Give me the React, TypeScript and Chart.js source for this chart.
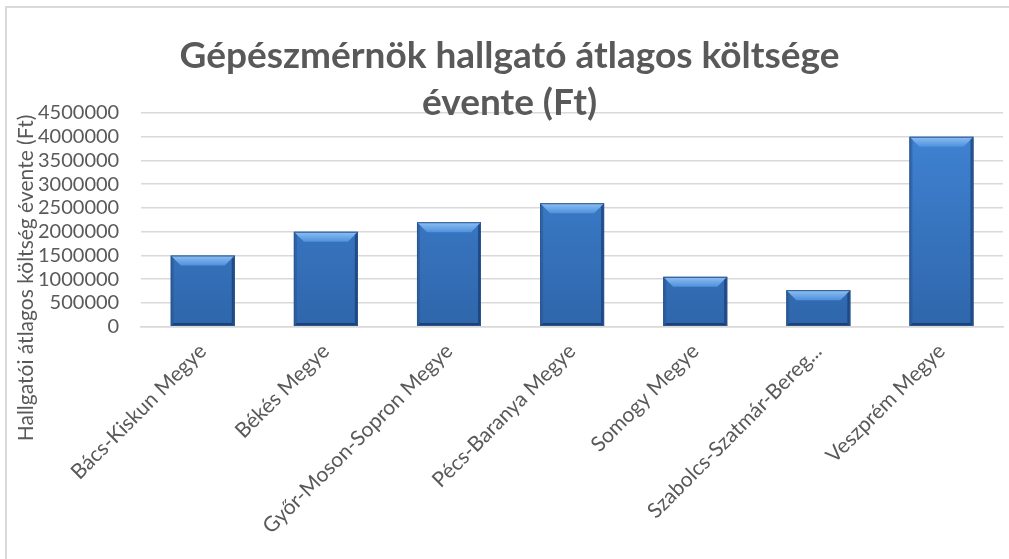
import React, { useEffect, useRef } from "react";
import { Chart, registerables } from "chart.js";

Chart.register(...registerables);

const categories = [
  "Bács-Kiskun Megye",
  "Békés Megye",
  "Győr-Moson-Sopron Megye",
  "Pécs-Baranya Megye",
  "Somogy Megye",
  "Szabolcs-Szatmár-Bereg...",
  "Veszprém Megye",
];
const costValues = [1500000, 2000000, 2200000, 2600000, 1050000, 770000, 4000000];
const titleLines = ["Gépészmérnök hallgató átlagos költsége", "évente (Ft)"];
const yAxisTitle = "Hallgatói átlagos költség évente (Ft)";
const yMin = 0;
const yMax = 4500000;
const yStep = 500000;

const TEXT = "#595959";
const FONT = "Lato, 'Open Sans', sans-serif";

const yTitlePlugin = {
  id: "yTitle",
  afterDraw(chart: any) {
    const ctx = chart.ctx;
    ctx.save();
    ctx.translate(26, 278);
    ctx.rotate(-Math.PI / 2);
    ctx.fillStyle = TEXT;
    ctx.font = `21px ${FONT}`;
    ctx.textAlign = "center";
    ctx.textBaseline = "middle";
    ctx.fillText(yAxisTitle, 0, 0);
    ctx.restore();
  },
};

const bevelPlugin = {
  id: "bevel",
  afterDatasetsDraw(chart: any) {
    const ctx = chart.ctx;
    const meta = chart.getDatasetMeta(0);
    meta.data.forEach((el: any) => {
      const p = el.getProps(["x", "y", "base", "width"], true);
      const l = p.x - p.width / 2;
      const r = p.x + p.width / 2;
      const t = p.y;
      const b = p.base;
      const bv = Math.min(10, (b - t) / 3);
      const sv = 3;
      ctx.save();
      const tg = ctx.createLinearGradient(0, t, 0, t + bv);
      tg.addColorStop(0, "#8fc0f4");
      tg.addColorStop(1, "#4f91dc");
      ctx.fillStyle = tg;
      ctx.beginPath();
      ctx.moveTo(l, t);
      ctx.lineTo(r, t);
      ctx.lineTo(r - bv, t + bv);
      ctx.lineTo(l + bv, t + bv);
      ctx.closePath();
      ctx.fill();
      ctx.fillStyle = "rgba(40,80,140,0.45)";
      ctx.beginPath();
      ctx.moveTo(l, t);
      ctx.lineTo(l + sv, t + sv);
      ctx.lineTo(l + sv, b - sv);
      ctx.lineTo(l, b);
      ctx.closePath();
      ctx.fill();
      ctx.fillStyle = "rgba(20,50,100,0.6)";
      ctx.beginPath();
      ctx.moveTo(r, t);
      ctx.lineTo(r - sv, t + sv);
      ctx.lineTo(r - sv, b - sv);
      ctx.lineTo(r, b);
      ctx.closePath();
      ctx.fill();
      ctx.fillStyle = "rgba(20,50,100,0.7)";
      ctx.beginPath();
      ctx.moveTo(l, b);
      ctx.lineTo(l + sv, b - sv);
      ctx.lineTo(r - sv, b - sv);
      ctx.lineTo(r, b);
      ctx.closePath();
      ctx.fill();
      ctx.strokeStyle = "#2b5690";
      ctx.lineWidth = 1;
      ctx.strokeRect(l + 0.5, t + 0.5, r - l - 1, b - t - 1);
      ctx.restore();
    });
  },
};

export default function App() {
  const ref = useRef<HTMLCanvasElement | null>(null);
  useEffect(() => {
    if (!ref.current) return;
    const chart = new Chart(ref.current, {
      type: "bar",
      data: {
        labels: categories,
        datasets: [
          {
            data: costValues,
            backgroundColor: (c: any) => {
              const area = c.chart.chartArea;
              if (!area) return "#3c7acb";
              const g = c.chart.ctx.createLinearGradient(0, area.top, 0, area.bottom);
              g.addColorStop(0, "#4185d6");
              g.addColorStop(1, "#2f66ab");
              return g;
            },
            borderWidth: 0,
            categoryPercentage: 1,
            barPercentage: 0.52,
          },
        ],
      },
      options: {
        responsive: false,
        animation: false,
        layout: { padding: { left: 16, right: 6, bottom: 16, top: 0 } },
        plugins: {
          legend: { display: false },
          tooltip: { enabled: false },
          title: {
            display: true,
            text: titleLines,
            color: TEXT,
            font: { family: FONT, size: 37, weight: "bold", lineHeight: 1.27 },
            padding: { top: 33, bottom: -14 },
          },
        },
        scales: {
          x: {
            grid: { display: false },
            border: { display: true, color: "#d9d9d9", width: 1.5 },
            ticks: {
              color: TEXT,
              font: { family: FONT, size: 21 },
              maxRotation: 45,
              minRotation: 45,
              autoSkip: false,
              padding: 4,
            },
          },
          y: {
            min: yMin,
            max: yMax,
            grid: { color: "#d9d9d9", lineWidth: 1.5, drawTicks: false },
            border: { display: false },
            ticks: {
              stepSize: yStep,
              autoSkip: false,
              color: TEXT,
              font: { family: FONT, size: 20 },
              padding: 22,
              callback: (v: any) => String(v),
            },
          },
        },
      },
      plugins: [bevelPlugin, yTitlePlugin],
    });
    return () => chart.destroy();
  }, []);
  return (
    <div style={{ position: "absolute", left: 0, top: 0, width: 1009, height: 559, background: "#fff" }}>
      <div
        style={{
          position: "absolute",
          left: 5,
          top: 6,
          right: 0,
          bottom: 0,
          borderTop: "2px solid #d9d9d9",
          borderLeft: "2px solid #d9d9d9",
        }}
      />
      <canvas ref={ref} width={1009} height={559} style={{ position: "absolute", left: 0, top: 0 }} />
    </div>
  );
}
